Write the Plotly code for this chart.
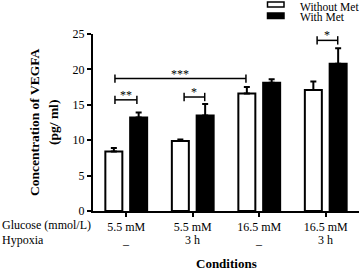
import plotly.graph_objects as go

# ---- data ----
glucose = ["5.5 mM", "5.5 mM", "16.5 mM", "16.5 mM"]
hypoxia = ["_", "3 h", "_", "3 h"]
without_met = [8.4, 9.9, 16.6, 17.1]
without_met_err = [0.5, 0.2, 0.9, 1.2]
with_met = [13.2, 13.5, 18.1, 20.8]
with_met_err = [0.7, 1.6, 0.5, 2.2]
# significance brackets: (x start, x end, y level, label) in category units
brackets = [
    (-0.17, 0.16, 15.7, "**"),
    (0.87, 1.18, 16.1, "*"),
    (-0.17, 1.80, 18.7, "***"),
    (2.87, 3.18, 24.1, "*"),
]

W, H = 359, 271
ML, MR, MT, MB = 93, 0, 34, 60
PW, PH = W - ML - MR, H - MT - MB
FONT = "Liberation Serif, Times New Roman, serif"
FS = 12


def px(x):
    return (x - ML) / PW


def py(y):
    return (H - MB - y) / PH


xs = list(range(len(glucose)))
fig = go.Figure()
fig.add_trace(go.Bar(
    x=xs, y=without_met, name="Without Met",
    marker=dict(color="white", line=dict(color="black", width=2)),
    error_y=dict(type="data", array=without_met_err, arrayminus=[0] * 4,
                 symmetric=False, color="black", thickness=2, width=3),
))
fig.add_trace(go.Bar(
    x=xs, y=with_met, name="With Met",
    marker=dict(color="black", line=dict(color="black", width=2)),
    error_y=dict(type="data", array=with_met_err, arrayminus=[0] * 4,
                 symmetric=False, color="black", thickness=2, width=3),
))

annotations = []
for x0, x1, yv, lab in brackets:
    fig.add_trace(go.Scatter(
        x=[x0, x1], y=[yv, yv], mode="lines+markers",
        line=dict(color="black", width=1.5),
        marker=dict(symbol="line-ns-open", size=6,
                    line=dict(color="black", width=1.5)),
        hoverinfo="skip", cliponaxis=False,
    ))
    annotations.append(dict(x=(x0 + x1) / 2, y=yv, xref="x", yref="y",
                            text=lab, showarrow=False, xanchor="center", yanchor="bottom",
                            yshift=-4, font=dict(family=FONT, size=FS, color="black")))

fig.update_layout(
    width=W, height=H,
    margin=dict(l=ML, r=MR, t=MT, b=MB),
    paper_bgcolor="white", plot_bgcolor="white",
    barmode="group", bargap=0.254, bargroupgap=0.315,
    showlegend=False,
    font=dict(family=FONT, size=FS, color="black"),
    xaxis=dict(range=[-0.5, 3.5], tickvals=xs, ticktext=glucose,
               showline=True, linecolor="black", linewidth=2,
               ticks="outside", ticklen=4, tickwidth=1.5, tickcolor="black",
               showgrid=False, zeroline=False,
               tickfont=dict(family=FONT, size=FS, color="black")),
    yaxis=dict(range=[0, 25], tickvals=[0, 5, 10, 15, 20, 25],
               showline=True, linecolor="black", linewidth=2,
               ticks="outside", ticklen=4, tickwidth=1.5, tickcolor="black",
               showgrid=False, zeroline=False,
               tickfont=dict(family=FONT, size=FS, color="black")),
)


def note(x, y, text, xanchor="center", angle=0, size=FS):
    return dict(x=px(x), y=py(y), xref="paper", yref="paper", text=text,
                xanchor=xanchor, yanchor="middle", textangle=angle,
                showarrow=False, font=dict(family=FONT, size=size, color="black"))


# second row of category labels (hypoxia)
for xi, h in zip(xs, hypoxia):
    annotations.append(dict(x=xi, y=py(240), xref="x", yref="paper", text=h,
                            xanchor="center", yanchor="middle", showarrow=False,
                            font=dict(family=FONT, size=FS, color="black")))

annotations += [
    note(35, 123, "<b>Concentration of VEGFA</b>", angle=-90, size=13.5),
    note(54, 123, "<b>(pg/ ml)</b>", angle=-90, size=13.5),
    note(0, 225, "Glucose (mmol/L)", xanchor="left"),
    note(0, 240, "Hypoxia", xanchor="left"),
    note(226, 263.5, "<b>Conditions</b>", size=13),
    note(298, 6.5, "Without Met", xanchor="left", size=11.5),
    note(298, 17, "With Met", xanchor="left", size=11.5),
]
fig.update_layout(annotations=annotations)

fig.add_shape(type="rect", xref="paper", yref="paper",
              x0=px(267.5), x1=px(284), y0=py(2), y1=py(7),
              line=dict(color="black", width=1.5), fillcolor="white")
fig.add_shape(type="rect", xref="paper", yref="paper",
              x0=px(267.5), x1=px(284), y0=py(13), y1=py(18.5),
              line=dict(color="black", width=1.5), fillcolor="black")

fig.write_html("out.html", config={"displayModeBar": False},
               post_script="document.body.style.margin='0';document.body.style.overflow='hidden';")
